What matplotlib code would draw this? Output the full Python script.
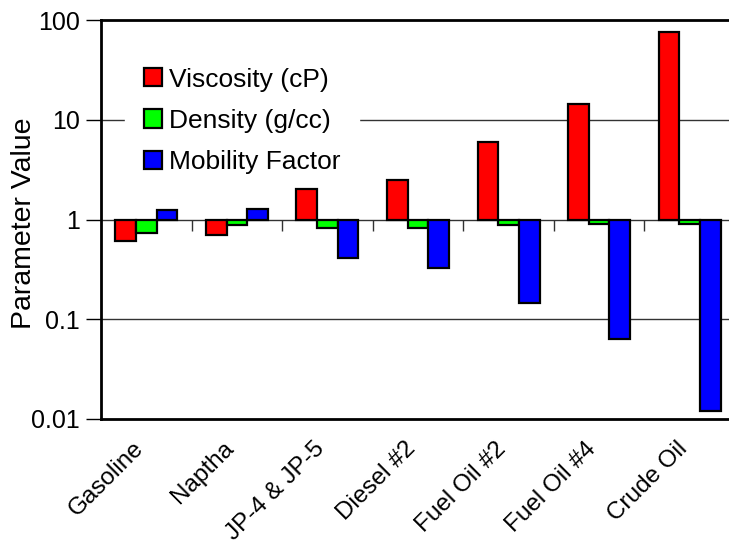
import numpy as np
import matplotlib
matplotlib.use("Agg")
import matplotlib.pyplot as plt
from matplotlib.transforms import ScaledTranslation

plt.rcParams['font.family'] = ['Liberation Sans', 'DejaVu Sans']

categories = ["Gasoline", "Naptha", "JP-4 & JP-5", "Diesel #2",
              "Fuel Oil #2", "Fuel Oil #4", "Crude Oil"]
viscosity = [0.61, 0.70, 2.0, 2.5, 6.0, 14.5, 75.0]
density = [0.74, 0.88, 0.83, 0.83, 0.89, 0.91, 0.91]
mobility = [1.24, 1.26, 0.41, 0.33, 0.147, 0.063, 0.0121]
series_names = ["Viscosity (cP)", "Density (g/cc)", "Mobility Factor"]
y_ticks = [0.01, 0.1, 1, 10, 100]
y_tick_labels = ["0.01", "0.1", "1", "10", "100"]

colors = ["#ff0000", "#00ff00", "#0000ff"]

fig = plt.figure(figsize=(7.29, 5.52), dpi=100)
ax = fig.add_axes([101 / 729, 1 - 419 / 552, 634 / 729, 399 / 552])

x = np.arange(len(categories))
width = 0.228
base = 1.0
for i, (vals, name, c) in enumerate(zip([viscosity, density, mobility], series_names, colors)):
    vals = np.asarray(vals)
    ax.bar(x + (i - 1) * width, vals - base, bottom=base, width=width,
           color=c, edgecolor="black", linewidth=1.6, label=name, zorder=3)

ax.set_yscale("log")
ax.set_ylim(0.01, 100)
ax.set_xlim(-0.5, len(categories) - 0.5)
ax.set_yticks(y_ticks)
ax.set_yticklabels(y_tick_labels)
ax.yaxis.set_minor_locator(matplotlib.ticker.NullLocator())
ax.tick_params(axis="y", direction="out", length=11, width=1, pad=4, labelsize=18)

ax.set_xticks(x)
ax.set_xticklabels(categories, rotation=45, ha="right", va="center",
                   rotation_mode="anchor", fontsize=17.5)
ax.tick_params(axis="x", length=0, pad=19)
shift = ScaledTranslation(-6 / 100, 0, fig.dpi_scale_trans)
for lab in ax.get_xticklabels():
    lab.set_transform(lab.get_transform() + shift)

# horizontal gridlines, the line at 1 doubles as the category axis
for yv in y_ticks[1:-1]:
    ax.axhline(yv, color="#333333", linewidth=1.0, zorder=1)
# category divider ticks hanging below the axis line at 1
ax.plot(x[:-1] + 0.5, np.full(len(x) - 1, base), ls="none", marker=3,
        markersize=8, color="#333333", markeredgewidth=1.0, zorder=2)

for side in ["left", "top", "bottom"]:
    ax.spines[side].set_linewidth(2)
    ax.spines[side].set_color("black")
ax.spines["right"].set_visible(False)

ax.set_ylabel("Parameter Value", fontsize=20.5)
ax.yaxis.set_label_coords(-0.101, 0.49)

leg = ax.legend(loc="upper left", bbox_to_anchor=(0.038, 0.927), fontsize=19,
                frameon=True, fancybox=False, edgecolor="white", framealpha=1,
                handlelength=0.68, handleheight=0.68, handletextpad=0.27,
                labelspacing=0.65, borderpad=0.7, borderaxespad=0)
# legend sits above the gridlines but beneath the bars
leg.set_zorder(2.5)
for h in leg.legend_handles:
    h.set_linewidth(1.6)

fig.savefig("out.png", dpi=100)
